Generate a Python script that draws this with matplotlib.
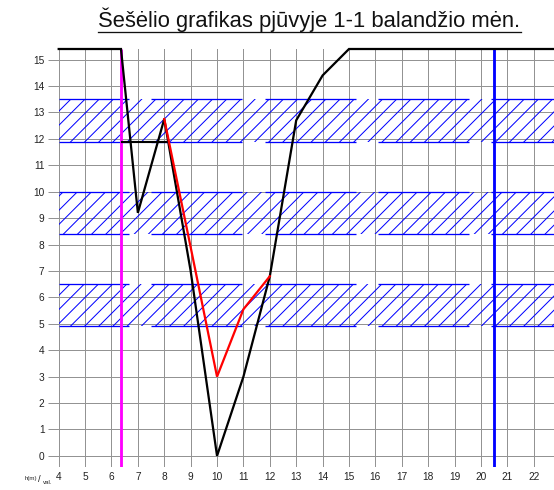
import matplotlib
matplotlib.use("Agg")
import matplotlib.pyplot as plt
from matplotlib.lines import Line2D

# ---- data -------------------------------------------------------------
title_text = "Šešėlio grafikas pjūvyje 1-1 balandžio mėn."
x_ticks = list(range(4, 23))
y_ticks = list(range(0, 16))

# shadow height curve (black)
shadow_x = [4, 6.36, 7, 8, 9, 10, 11, 12, 13, 14, 15, 23]
shadow_y = [15.4, 15.4, 9.2, 12.75, 7.0, 0.0, 3.0, 6.8, 12.7, 14.4, 15.4, 15.4]

# short horizontal step (black)
step_x = [6.36, 8.1]
step_y = [11.88, 11.88]

# red curve
red_x = [8, 9, 10, 11, 12]
red_y = [12.75, 7.9, 3.0, 5.55, 6.8]

# hatched window bands (height ranges)
band_low = [4.9, 8.4, 11.88]
band_high = [6.5, 10.0, 13.5]
# pieces of the band outlines along x
piece_start = [4, 7.5, 11.8, 16.1, 20.4]
piece_end = [6.65, 10.95, 15.25, 19.55, 23]

# vertical markers
sunrise_x = 6.36
sunset_x = 20.5

# ---- figure -------------------------------------------------------------
DPI = 85
plt.rcParams["font.family"] = ["Liberation Sans", "DejaVu Sans"]
plt.rcParams["hatch.linewidth"] = 0.85

fig = plt.figure(figsize=(554 / DPI, 490 / DPI), dpi=DPI)
ax = fig.add_axes([58.7 / 554, 1 - 467 / 490, 1 - 58.7 / 554, (467 - 49) / 490])
ax.set_xlim(4, 4 + (554 - 58.7) / 26.39)
ax.set_ylim(-0.42, 15.4)

for s in ax.spines.values():
    s.set_visible(False)

grid_c = "#939393"
for xv in x_ticks:
    ax.axvline(xv, color=grid_c, lw=0.85, zorder=1)
for yv in y_ticks:
    ax.axhline(yv, color=grid_c, lw=0.85, zorder=1)

ax.set_xticks(x_ticks)
ax.set_yticks(y_ticks)
ax.tick_params(axis="x", length=0, pad=4, labelsize=8.6, labelcolor="#222222")
ax.tick_params(axis="y", length=9, width=0.85, color=grid_c, pad=3,
               labelsize=8.6, labelcolor="#222222")

# hatched bands
x_full = [4, 23]
for lo, hi in zip(band_low, band_high):
    ax.fill_between(x_full, lo, hi, hatch="//", facecolor="none",
                    edgecolor="#0000ff", linewidth=0, zorder=2)
    for a, b in zip(piece_start, piece_end):
        ax.plot([a, b], [lo, lo], color="#0000ff", lw=1.1, zorder=3,
                solid_capstyle="butt")
        ax.plot([a, b], [hi, hi], color="#0000ff", lw=1.1, zorder=3,
                solid_capstyle="butt")

# vertical markers
ax.plot([sunrise_x, sunrise_x], [-0.42, 15.4], color="#ff00ff", lw=2.4, zorder=4,
        solid_capstyle="butt")
ax.plot([sunset_x, sunset_x], [-0.42, 15.4], color="#0000ff", lw=2.4, zorder=4,
        solid_capstyle="butt")

# curves
ax.plot(step_x, step_y, color="black", lw=1.8, zorder=5, solid_capstyle="butt")
ax.plot(shadow_x, shadow_y, color="black", lw=1.9, zorder=5, clip_on=False,
        solid_joinstyle="miter")
ax.plot(red_x, red_y, color="#ff0000", lw=1.9, zorder=6, solid_joinstyle="miter")

# axis unit label
fig.text(25 / 554, 1 - 480 / 490, "h(m)", fontsize=5.2, color="#222222", va="baseline")
fig.text(38.5 / 554, 1 - 482 / 490, "/", fontsize=8, color="#222222", va="baseline")
fig.text(43 / 554, 1 - 484 / 490, "val.", fontsize=5.2, color="#222222", va="baseline")

# title with underline
t = fig.text(309.5 / 554, 1 - 27 / 490, title_text, fontsize=18.6,
             ha="center", va="baseline", color="#111111")
fig.canvas.draw()
bb = t.get_window_extent(fig.canvas.get_renderer())
uy = 1 - 31.7 / 490
fig.add_artist(Line2D([bb.x0 / fig.bbox.width, bb.x1 / fig.bbox.width], [uy, uy],
                      transform=fig.transFigure, color="#111111", lw=1.1))

fig.savefig("out.png", dpi=DPI)
